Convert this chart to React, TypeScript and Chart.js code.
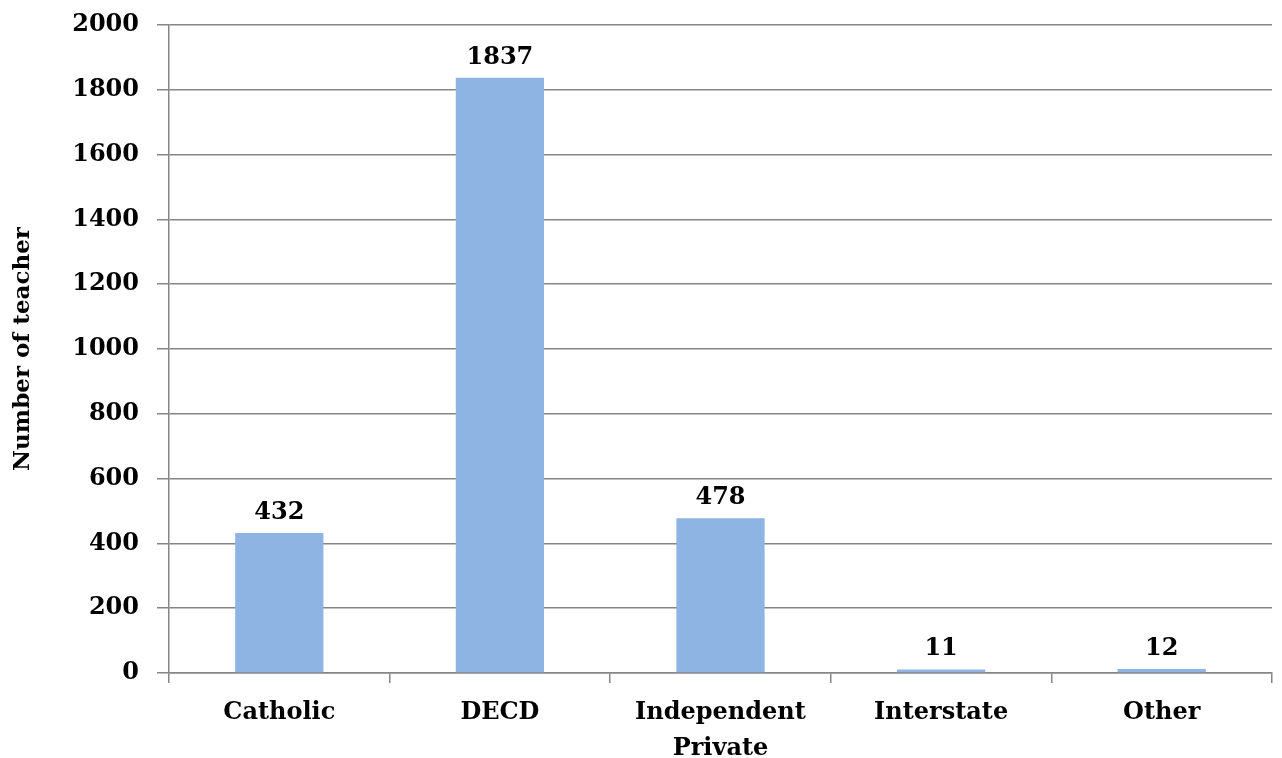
import React, { useEffect, useRef } from "react";
import { Chart, registerables } from "chart.js";

Chart.register(...registerables);

const categories: (string | string[])[] = ["Catholic", "DECD", ["Independent", "Private"], "Interstate", "Other"];
const teacherCounts: number[] = [432, 1837, 478, 11, 12];
const yTickValues: number[] = [0, 200, 400, 600, 800, 1000, 1200, 1400, 1600, 1800, 2000];

const FONT = "'DejaVu Serif', serif";
const GRAY = "#868686";

const valueLabels = {
  id: "valueLabels",
  afterDatasetsDraw(chart: any) {
    const ctx = chart.ctx;
    const meta = chart.getDatasetMeta(0);
    ctx.save();
    ctx.font = `bold 24px ${FONT}`;
    ctx.fillStyle = "#000";
    ctx.textAlign = "center";
    ctx.textBaseline = "alphabetic";
    meta.data.forEach((bar: any, i: number) => {
      const v = chart.data.datasets[0].data[i];
      ctx.fillText(String(v), bar.x, bar.y - 14);
    });
    ctx.restore();
  },
};

export default function App() {
  const ref = useRef<HTMLCanvasElement | null>(null);
  useEffect(() => {
    document.body.style.margin = "0";
    if (!ref.current) return;
    const chart = new Chart(ref.current, {
      type: "bar",
      data: {
        labels: categories,
        datasets: [
          {
            data: teacherCounts,
            backgroundColor: "#8EB4E3",
            borderWidth: 0,
            categoryPercentage: 1,
            barPercentage: 0.4,
          },
        ],
      },
      plugins: [valueLabels],
      options: {
        animation: false,
        responsive: true,
        maintainAspectRatio: false,
        layout: { padding: { top: 25, right: 10, left: 0, bottom: 0 } },
        plugins: {
          legend: { display: false },
          tooltip: { enabled: false },
        },
        scales: {
          x: {
            grid: {
              offset: true,
              drawOnChartArea: false,
              drawTicks: true,
              tickLength: 10,
              color: GRAY,
              lineWidth: 1.5,
            },
            border: { color: GRAY, width: 1.5 },
            ticks: {
              color: "#000",
              font: { family: FONT, size: 24, weight: "bold", lineHeight: 1.5 },
              padding: 12,
              maxRotation: 0,
              autoSkip: false,
            },
            afterFit(scale: any) {
              scale.height = 85;
            },
          },
          y: {
            min: 0,
            max: 2000,
            afterBuildTicks(scale: any) {
              scale.ticks = yTickValues.map((v) => ({ value: v }));
            },
            grid: {
              color: GRAY,
              lineWidth: 1.5,
              tickLength: 12,
            },
            border: { color: GRAY, width: 1.5 },
            ticks: {
              color: "#000",
              font: { family: FONT, size: 24, weight: "bold" },
              padding: 18,
              callback: (v: any) => String(v),
            },
            title: {
              display: true,
              text: "Number of teacher",
              color: "#000",
              font: { family: FONT, size: 23, weight: "bold" },
              padding: { top: 9, bottom: 0 },
            },
            afterFit(scale: any) {
              scale.width = 169;
              scale.paddingTop = 10;
              scale.paddingBottom = 10;
            },
          },
        },
      },
    });
    return () => chart.destroy();
  }, []);
  return (
    <div style={{ position: "absolute", left: 0, top: 0, width: 1282, height: 758 }}>
      <canvas ref={ref} />
    </div>
  );
}
